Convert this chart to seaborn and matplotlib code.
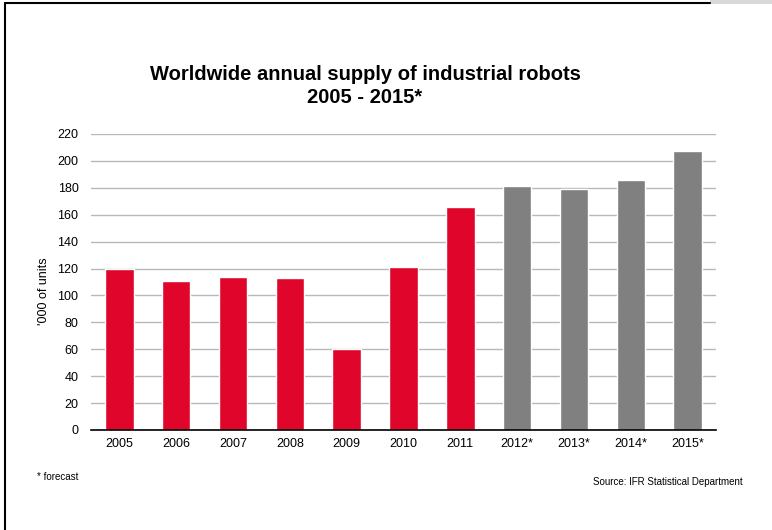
import matplotlib
matplotlib.use("Agg")
import matplotlib.pyplot as plt
import seaborn as sns
import pandas as pd
from matplotlib.patches import Rectangle
from matplotlib.lines import Line2D

# ---- data ----
years = ["2005", "2006", "2007", "2008", "2009", "2010", "2011",
         "2012*", "2013*", "2014*", "2015*"]
units = [120, 111, 114, 113, 60, 121, 166, 181, 179, 186, 207]
kind = ["actual"] * 7 + ["forecast"] * 4
yticks = [0, 20, 40, 60, 80, 100, 120, 140, 160, 180, 200, 220]

title_text = "Worldwide annual supply of industrial robots\n2005 - 2015*"
ylabel_text = "'000 of units"
note_text = "* forecast"
source_text = "Source: IFR Statistical Department"

RED = "#E0062B"
GRAY = "#808080"

sns.set_theme(style="white")
plt.rcParams['font.family'] = ['Liberation Sans', 'DejaVu Sans']
plt.rcParams['text.color'] = 'black'
plt.rcParams['axes.labelcolor'] = 'black'

df = pd.DataFrame({"year": years, "units": units, "kind": kind})

W, H = 772, 530
fig = plt.figure(figsize=(W / 100, H / 100), dpi=100)
fig.patch.set_facecolor("white")

left, right, bottom, top = 91, 716, 430, 134
ax = fig.add_axes([left / W, 1 - bottom / H, (right - left) / W, (bottom - top) / H])

sns.barplot(data=df, x="year", y="units", hue="kind",
            palette={"actual": RED, "forecast": GRAY},
            dodge=False, width=0.5, legend=False, ax=ax, zorder=3,
            saturation=1)

ax.set_ylim(0, 220)
ax.set_xlim(-0.5, len(years) - 0.5)
ax.set_yticks(yticks)
ax.yaxis.grid(True, color="#b8b8b8", linewidth=1.0, zorder=0)
ax.set_axisbelow(True)
for s in ["left", "right", "top"]:
    ax.spines[s].set_visible(False)
ax.spines["bottom"].set_color("black")
ax.spines["bottom"].set_linewidth(1.2)
ax.spines["bottom"].set_zorder(4)
ax.tick_params(axis="both", length=0, labelsize=9, colors="black")
ax.tick_params(axis="y", pad=9)
ax.tick_params(axis="x", pad=6)
ax.set_xlabel("")
ax.set_ylabel(ylabel_text, fontsize=9)
ax.yaxis.set_label_coords(-0.066, 0.47)

fig.text(365 / W, 1 - 86 / H, title_text, ha="center", va="center",
         fontsize=14.5, fontweight="bold", linespacing=1.28, color="black")
fig.text(37 / W, 1 - 477 / H, note_text, ha="left", va="center", fontsize=7)
fig.text(743 / W, 1 - 482 / H, source_text, ha="right", va="center", fontsize=7)

# slide frame decoration
fig.add_artist(Line2D([5 / W, 5 / W], [0, 1 - 3 / H], transform=fig.transFigure,
                      color="black", linewidth=1.5))
fig.add_artist(Line2D([5 / W, 710 / W], [1 - 3 / H, 1 - 3 / H], transform=fig.transFigure,
                      color="black", linewidth=1.5))
fig.add_artist(Rectangle((710 / W, 1 - 4 / H), 62 / W, 4 / H, transform=fig.transFigure,
                         facecolor="#d9d9d9", edgecolor="none"))

fig.savefig("out.png", dpi=100)
